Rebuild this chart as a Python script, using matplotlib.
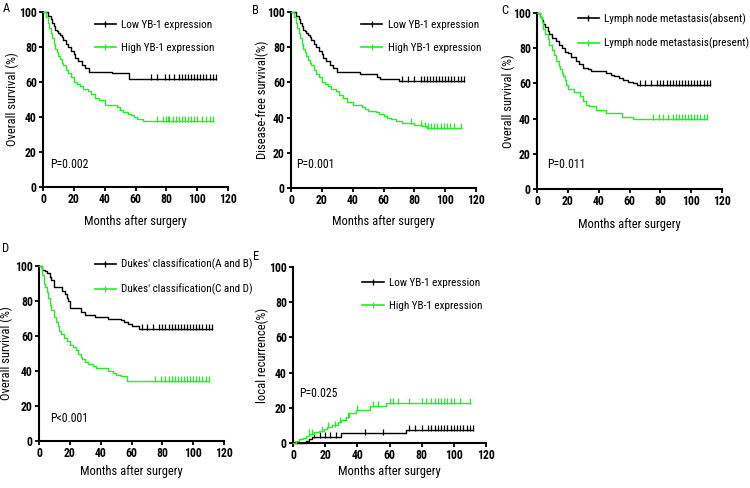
import numpy as np
import matplotlib
matplotlib.use("Agg")
import matplotlib.pyplot as plt
from matplotlib.lines import Line2D
from matplotlib import font_manager

names = {f.name for f in font_manager.fontManager.ttflist}
FONT = 'Liberation Sans'
for cand in ['Roboto Condensed', 'Liberation Sans Narrow', 'Arial Narrow']:
    if cand in names:
        FONT = cand
        break
plt.rcParams['font.family'] = [FONT, 'DejaVu Sans']

GREEN = '#22ee22'

# ---------------- data ----------------
# Panel A
a_low_t = [0, 3, 5, 6, 7, 8, 9, 10, 11, 12, 13, 15, 16, 18, 20, 21, 23, 25, 27, 30, 45, 56]
a_low_s = [100, 98, 96, 94, 92, 90, 89, 88, 87, 86, 84, 82, 80, 78, 76, 74, 72, 70, 68, 66, 65, 62]
a_low_c = [70, 74, 79, 82, 85, 88, 90, 92, 94, 96, 98, 100, 102, 104, 106, 108, 110, 112]
a_high_t = [0, 2, 3, 4, 5, 6, 7, 8, 9, 10, 11, 12, 13, 15, 16, 18, 20, 22, 24, 26, 29, 31, 34, 36, 40, 48, 50, 52, 55, 57, 59, 61, 65]
a_high_s = [100, 97, 94, 91, 88, 85, 82, 79, 77, 75, 73, 71, 70, 67, 65, 63, 60, 59, 58, 56, 55, 53, 51, 50, 47, 46, 44, 43, 42, 41, 40, 39, 38]
a_high_c = [74, 78, 80, 81, 82, 84, 86, 88, 90, 92, 94, 96, 98, 100, 103, 106, 108, 110]

# Panel B
b_low_t = [0, 3, 5, 6, 7, 8, 9, 10, 11, 12, 13, 15, 16, 18, 20, 21, 23, 25, 27, 30, 45, 56, 58, 70]
b_low_s = [100, 98, 96, 94, 92, 90, 89, 88, 87, 86, 84, 82, 80, 78, 76, 74, 72, 70, 68, 66, 65, 63, 62, 61]
b_low_c = [72, 76, 80, 84, 86, 88, 90, 92, 94, 96, 98, 100, 102, 104, 106, 108, 110, 112]
b_high_t = [0, 2, 3, 4, 5, 6, 7, 8, 9, 10, 11, 12, 13, 15, 16, 18, 20, 22, 24, 26, 29, 31, 34, 36, 40, 46, 48, 50, 55, 57, 60, 62, 65, 68, 72, 80, 85, 88]
b_high_s = [100, 97, 94, 91, 88, 85, 82, 79, 77, 75, 73, 71, 70, 67, 65, 63, 60, 59, 58, 56, 55, 53, 51, 49, 47, 46, 45, 44, 43, 42, 41, 40, 39, 38, 37, 36, 35, 34]
b_high_c = [78, 84, 87, 89, 91, 93, 95, 97, 99, 101, 103, 106, 110]

# Panel C
c_low_t = [0, 2, 3, 4, 5, 7, 8, 10, 12, 14, 16, 18, 20, 22, 25, 27, 30, 33, 35, 45, 48, 50, 53, 56, 59, 62, 65]
c_low_s = [100, 98, 96, 94, 92, 90, 88, 86, 84, 82, 80, 78, 77, 75, 73, 71, 69, 68, 67, 66, 65, 64, 63, 62, 61, 60, 59]
c_low_c = [67, 70, 74, 78, 80, 82, 84, 86, 88, 90, 92, 94, 96, 98, 100, 102, 104, 106, 108, 110, 112]
c_high_t = [0, 2, 3, 4, 5, 7, 8, 10, 11, 12, 14, 15, 16, 17, 18, 19, 20, 24, 28, 30, 32, 34, 38, 45, 55, 62]
c_high_s = [100, 98, 95, 91, 88, 85, 82, 79, 76, 73, 70, 68, 66, 64, 62, 59, 57, 55, 53, 50, 48, 47, 45, 43, 41, 40]
c_high_c = [75, 79, 82, 85, 88, 90, 92, 94, 96, 98, 100, 102, 104, 106, 108, 110]

# Panel D
d_low_t = [0, 2, 4, 5, 7, 8, 10, 15, 17, 18, 19, 20, 27, 30, 36, 45, 53, 55, 58, 60, 65]
d_low_s = [100, 98, 97, 96, 94, 92, 88, 86, 84, 82, 80, 76, 74, 72, 71, 70, 69, 68, 67, 66, 64]
d_low_c = [67, 70, 74, 78, 80, 82, 84, 86, 88, 90, 92, 94, 96, 98, 100, 102, 104, 106, 108, 110, 112]
d_high_t = [0, 2, 3, 4, 5, 6, 7, 8, 10, 11, 12, 13, 14, 16, 18, 20, 22, 24, 25, 27, 28, 30, 32, 35, 37, 45, 48, 50, 53, 57]
d_high_s = [100, 95, 90, 88, 85, 82, 78, 75, 71, 68, 66, 63, 61, 59, 57, 55, 54, 52, 50, 48, 47, 45, 44, 43, 42, 40, 39, 38, 37, 34.5]
d_high_c = [75, 79, 82, 84, 86, 88, 90, 92, 94, 96, 98, 100, 102, 104, 106, 108, 110]

# Panel E (cumulative recurrence)
e_low_t = [0, 8, 10, 12, 30, 70]
e_low_s = [0, 1, 2, 3.5, 5.5, 7.5]
e_low_c = [13, 17, 20, 23, 27, 45, 56, 72, 76, 80, 84, 86, 88, 90, 92, 94, 96, 98, 100, 102, 104, 106, 108, 110, 112]
e_high_t = [0, 2, 4, 6, 8, 10, 13, 16, 19, 21, 24, 28, 30, 33, 35, 39, 48, 58]
e_high_s = [0, 1, 2, 3, 4, 5, 6, 7, 8, 9, 10, 12, 13, 15, 17, 19, 21, 23]
e_high_c = [10, 12, 18, 22, 26, 29, 34, 40, 50, 53, 60, 62, 65, 72, 80, 83, 86, 88, 90, 92, 94, 96, 98, 100, 104, 110]

W, H = 750, 488

panels = [
    dict(letter='A', lpos=(3, 8), ylabel='Overall survival (%)', p='P=0.002',
         labels=['Low YB-1 expression', 'High YB-1 expression'],
         series=[(a_low_t, a_low_s, a_low_c), (a_high_t, a_high_s, a_high_c)],
         box=(43, 12, 228, 187), ppos=(0.04, 0.126), leg=(0.28, 14), ylab=-0.165, xlab=-0.16),
    dict(letter='B', lpos=(252, 10), ylabel='Disease-free survival(%)', p='P=0.001',
         labels=['Low YB-1 expression', 'High YB-1 expression'],
         series=[(b_low_t, b_low_s, b_low_c), (b_high_t, b_high_s, b_high_c)],
         box=(291, 12, 476, 188), ppos=(0.03, 0.136), leg=(0.38, 14), ylab=-0.155, xlab=-0.153),
    dict(letter='C', lpos=(501, 10), ylabel='Overall survival (%)', p='P=0.011',
         labels=['Lymph node metastasis(absent)', 'Lymph node metastasis(present)'],
         series=[(c_low_t, c_low_s, c_low_c), (c_high_t, c_high_s, c_high_c)],
         box=(537, 13, 722, 189), ppos=(0.054, 0.142), leg=(0.22, 6), ylab=-0.155, xlab=-0.165),
    dict(letter='D', lpos=(2, 248), ylabel='Overall survival (%)', p='P<0.001',
         labels=["Dukes' classification(A and B)", "Dukes' classification(C and D)"],
         series=[(d_low_t, d_low_s, d_low_c), (d_high_t, d_high_s, d_high_c)],
         box=(39, 266, 224, 441), ppos=(0.06, 0.13), leg=(0.30, -1), ylab=-0.175, xlab=-0.137),
    dict(letter='E', lpos=(253, 256), ylabel='local recurrence(%)', p='P=0.025',
         labels=['Low YB-1 expression', 'High YB-1 expression'],
         series=[(e_low_t, e_low_s, e_low_c), (e_high_t, e_high_s, e_high_c)],
         box=(293, 267, 486, 443), ppos=(0.03, 0.28), leg=(0.36, 17), ylab=-0.16, xlab=-0.125),
]

fig = plt.figure(figsize=(7.5, 4.88), dpi=100)
colors = ['black', GREEN]
FS_TICK = 8.5
FS_LAB = 9
FS_LEG = 8
FS_P = 8.5

for pn in panels:
    x0, y0, x1, y1 = pn['box']
    ax = fig.add_axes([x0 / W, 1 - y1 / H, (x1 - x0) / W, (y1 - y0) / H])
    hpx = y1 - y0
    handles = []
    for (t, s, c), col, lab in zip(pn['series'], colors, pn['labels']):
        t = list(t); s = list(s)
        tt = t + [max(c)]
        ss = s + [s[-1]]
        ax.step(tt, ss, where='post', color=col, lw=1.0, clip_on=False, zorder=3)
        idx = np.searchsorted(np.array(t), np.array(c), side='right') - 1
        cy = np.array(s)[idx]
        ax.plot(c, cy + 1.0, ls='none', marker='|', ms=4.5, mew=0.9, color=col, clip_on=False, zorder=3)
        handles.append(Line2D([], [], color=col, lw=1.2, marker='|', ms=4.5, mew=1.0))
    ax.set_xlim(0, 120)
    ax.set_ylim(0, 100)
    ax.set_xticks(range(0, 121, 20))
    ax.set_yticks(range(0, 101, 20))
    for sp in ['top', 'right']:
        ax.spines[sp].set_visible(False)
    for sp in ['left', 'bottom']:
        ax.spines[sp].set_linewidth(1.5)
    ax.tick_params(direction='out', length=3, width=1.3, labelsize=FS_TICK, pad=1.5)
    for lbl in ax.get_xticklabels() + ax.get_yticklabels():
        lbl.set_fontweight('bold')
    ax.set_xlabel('Months after surgery', fontsize=FS_LAB)
    ax.xaxis.set_label_coords(0.5, pn['xlab'])
    ax.set_ylabel(pn['ylabel'], fontsize=FS_LAB, va='center')
    ax.yaxis.set_label_coords(pn['ylab'], 0.5)
    ax.text(pn['ppos'][0], pn['ppos'][1], pn['p'], transform=ax.transAxes,
            fontsize=FS_P, va='center', ha='left')
    fig.text(pn['lpos'][0] / W, 1 - pn['lpos'][1] / H, pn['letter'], fontsize=9, va='center', ha='left')
    lx, ltop = pn['leg']
    ax.legend(handles, pn['labels'], loc='upper left',
              bbox_to_anchor=(lx, 1 - (ltop - 6) / hpx), frameon=False,
              fontsize=FS_LEG, handlelength=1.9, handletextpad=0.5, labelspacing=1.2,
              borderaxespad=0, borderpad=0)

fig.savefig('out.png', dpi=100)
